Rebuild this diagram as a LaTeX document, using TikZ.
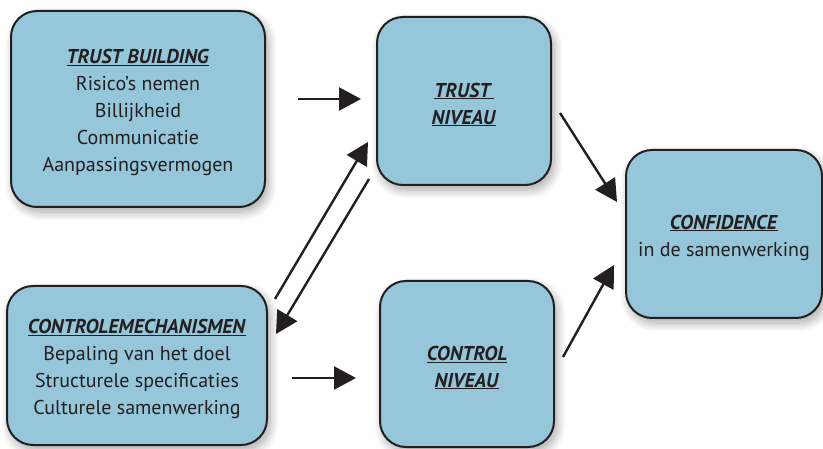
\documentclass[tikz,border=0pt]{standalone}
\usepackage{fontspec}
\setmainfont{PT Sans}
\usetikzlibrary{arrows.meta,shadows.blur}
\definecolor{boxfill}{RGB}{150,198,217}
\definecolor{ink}{RGB}{35,31,32}
\tikzset{
  box/.style={draw=ink, line width=2pt, fill=boxfill, rounded corners=26pt,
    rectangle, inner sep=0pt,
    blur shadow={shadow xshift=3pt, shadow yshift=-5pt, shadow blur steps=12, shadow opacity=35, shadow blur radius=9pt}},
  txt/.style={align=center, text=ink, inner sep=0pt, yshift=-3.5pt,
    font=\fontsize{20}{27}\selectfont},
  arr/.style={draw=ink, line width=2.4pt, -{Triangle[length=22pt,width=23pt]}},
}
\newcommand{\hd}[1]{\underline{\textbf{\textit{#1}}}}
\begin{document}
\begin{tikzpicture}[x=1pt,y=-1pt]
\useasboundingbox (0,0) rectangle (823,449);
\node[box, minimum width=254pt, minimum height=196pt] (tb) at (138,109) {};
\node[txt] (tbt) at (tb.center)
  {\hd{TRUST BUILDING}\\Risico’s nemen\\Billijkheid\\Communicatie\\Aanpassingsvermogen};
\node[box, minimum width=174pt, minimum height=168pt] (tn) at (464,101) {};
\node[txt] (tnt) at (tn.center) {\hd{TRUST\,}\\\hd{NIVEAU}};
\node[box, minimum width=260pt, minimum height=159pt] (cm) at (137,365.5) {};
\node[txt] (cmt) at (cm.center)
  {\hd{CONTROLEMECHANISMEN}\\Bepaling van het doel\\Structurele specificaties\\Culturele samenwerking};
\node[box, minimum width=174pt, minimum height=166pt] (cn) at (467,364) {};
\node[txt] (cnt) at (cn.center) {\hd{CONTROL}\\\hd{NIVEAU}};
\node[box, minimum width=196pt, minimum height=168pt] (cf) at (724,234) {};
\node[txt] (cft) at (cf.center) {\hd{CONFIDENCE}\\in de samenwerking};
\coordinate (a1s) at (298,99);  \coordinate (a1e) at (361,99);
\coordinate (a2s) at (292,378); \coordinate (a2e) at (356,378);
\coordinate (a3s) at (275,299); \coordinate (a3e) at (368,142);
\coordinate (a4s) at (369,179); \coordinate (a4e) at (276,334);
\coordinate (a5s) at (560,113); \coordinate (a5e) at (617,202);
\coordinate (a6s) at (563,357); \coordinate (a6e) at (614,265);
\draw[arr] (a1s) -- (a1e);
\draw[arr] (a2s) -- (a2e);
\draw[arr] (a3s) -- (a3e);
\draw[arr] (a4s) -- (a4e);
\draw[arr] (a5s) -- (a5e);
\draw[arr] (a6s) -- (a6e);
\end{tikzpicture}
\end{document}
